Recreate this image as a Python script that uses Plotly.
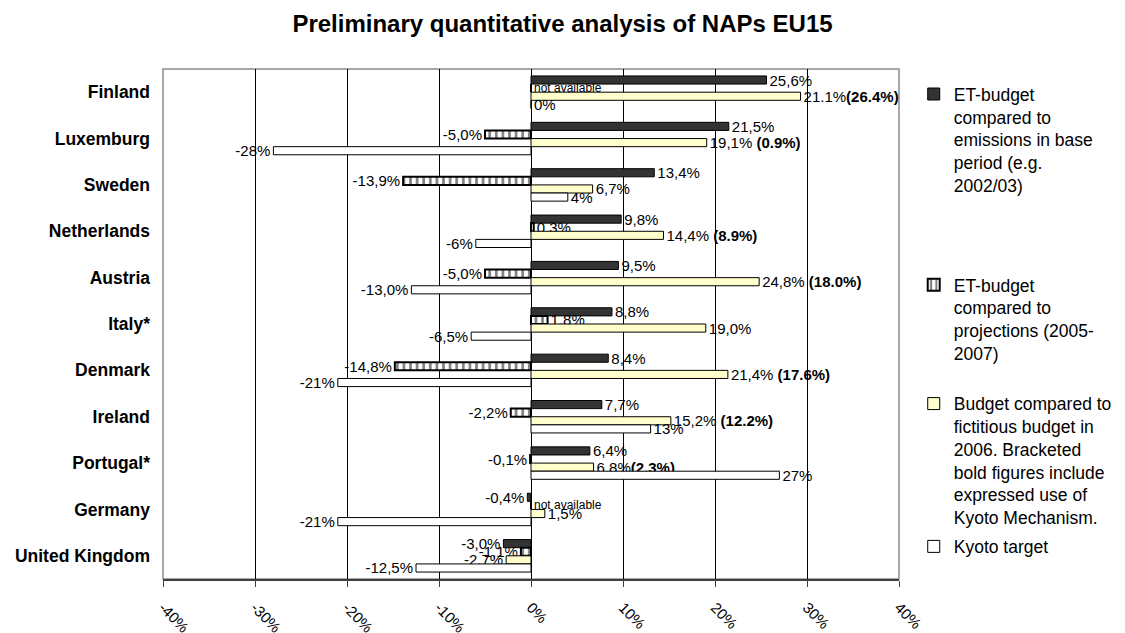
import plotly.graph_objects as go

# data (percent)
countries = ["Finland", "Luxemburg", "Sweden", "Netherlands", "Austria", "Italy*",
             "Denmark", "Ireland", "Portugal*", "Germany", "United Kingdom"]

et_base = [25.6, 21.5, 13.4, 9.8, 9.5, 8.8, 8.4, 7.7, 6.4, -0.4, -3.0]
et_base_text = ["25,6%", "21,5%", "13,4%", "9,8%", "9,5%", "8,8%", "8,4%", "7,7%",
                "6,4%", "-0,4%", "-3,0%"]

et_proj = [0, -5.0, -13.9, 0.3, -5.0, 1.8, -14.8, -2.2, -0.1, 0, -1.1]
et_proj_text = ["not available", "-5,0%", "-13,9%", "0,3%", "-5,0%", "1,8%", "-14,8%",
                "-2,2%", "-0,1%", "not available", "-1,1%"]

budget = [29.3, 19.1, 6.7, 14.4, 24.8, 19.0, 21.4, 15.2, 6.8, 1.5, -2.7]
budget_text = ["21.1%<b>(26.4%)</b>", "19,1% <b>(0.9%)</b>", "6,7%", "14,4% <b>(8.9%)</b>",
               "24,8% <b>(18.0%)</b>", "19,0%", "21,4% <b>(17.6%)</b>", "15,2% <b>(12.2%)</b>",
               "6,8%<b>(2.3%)</b>", "1,5%", "-2,7%"]

kyoto = [0, -28, 4, -6, -13.0, -6.5, -21, 13, 27, -21, -12.5]
kyoto_text = ["0%", "-28%", "4%", "-6%", "-13,0%", "-6,5%", "-21%", "13%", "27%",
              "-21%", "-12,5%"]

x_ticks = [-40, -30, -20, -10, 0, 10, 20, 30, 40]
x_tick_labels = ["-40%", "-30%", "-20%", "-10%", "0%", "10%", "20%", "30%", "40%"]

names = [
    "ET-budget<br>compared to<br>emissions in base<br>period (e.g.<br>2002/03)",
    "ET-budget<br>compared to<br>projections (2005-<br>2007)",
    "Budget compared to<br>fictitious budget in<br>2006. Bracketed<br>bold figures include<br>expressed use of<br>Kyoto Mechanism.",
    "Kyoto target",
]

FONT = "Arial, Liberation Sans, sans-serif"
LBL = 15

fig = go.Figure()

def label_sizes(texts):
    return [12 if t == "not available" else LBL for t in texts]

fig.add_trace(go.Bar(
    y=countries, x=et_base, orientation="h", name=names[0], legend="legend",
    marker=dict(color="#333333", line=dict(color="black", width=1)),
    text=et_base_text, textposition="outside",
    textfont=dict(size=label_sizes(et_base_text), color="black", family=FONT),
))
fig.add_trace(go.Bar(
    y=countries, x=et_proj, orientation="h", name=names[1], legend="legend2",
    marker=dict(color="white", line=dict(color="black", width=2),
                pattern=dict(shape="|", fgcolor="black", bgcolor="white",
                             size=6.6, solidity=0.4)),
    text=et_proj_text, textposition="outside",
    textfont=dict(size=label_sizes(et_proj_text), color="black", family=FONT),
))
fig.add_trace(go.Bar(
    y=countries, x=budget, orientation="h", name=names[2], legend="legend3",
    marker=dict(color="#FFFFCC", line=dict(color="black", width=1)),
    text=budget_text, textposition="outside",
    textfont=dict(size=LBL, color="black", family=FONT),
))
fig.add_trace(go.Bar(
    y=countries, x=kyoto, orientation="h", name=names[3], legend="legend4",
    marker=dict(color="white", line=dict(color="black", width=1)),
    text=kyoto_text, textposition="outside",
    textfont=dict(size=LBL, color="black", family=FONT),
))

fig.update_traces(cliponaxis=False, constraintext="none", showlegend=True)

n = len(countries)
legend_style = dict(font=dict(size=17.5, family=FONT, color="black"),
                    valign="top", bgcolor="rgba(0,0,0,0)", xanchor="left",
                    yanchor="top", x=1.02)

fig.update_layout(
    width=1125, height=633,
    margin=dict(l=163, r=226, t=69, b=54, autoexpand=False),
    paper_bgcolor="white", plot_bgcolor="white",
    font=dict(family=FONT, color="black"),
    showlegend=True,
    barmode="group", bargap=0.3, bargroupgap=0,
    title=dict(text="<b>Preliminary quantitative analysis of NAPs EU15</b>",
               x=0.5, xanchor="center", y=0.962, yanchor="middle",
               font=dict(size=24, family=FONT, color="black")),
    xaxis=dict(range=[-40, 40], tickvals=x_ticks, ticktext=x_tick_labels,
               showgrid=True, automargin=False,
               gridcolor="black", gridwidth=1, zeroline=True, zerolinecolor="black",
               zerolinewidth=1, showline=True, linecolor="#404040", linewidth=2,
               ticks="outside", ticklen=6, tickcolor="#404040", tickangle=45,
               tickfont=dict(size=15, family=FONT), ticklabelstandoff=6),
    yaxis=dict(type="category", categoryorder="array", categoryarray=countries,
               range=[n - 0.5, -0.5], showgrid=False, ticks="", automargin=False,
               tickfont=dict(size=17.5, family=FONT, weight="bold"),
               ticklabelstandoff=12),
    yaxis2=dict(overlaying="y", anchor="free", position=0.5, range=[n - 0.5, -0.5],
                tickvals=[i - 0.5 for i in range(n + 1)], ticks="outside",
                ticklen=4, tickcolor="black", showticklabels=False, automargin=False,
                showgrid=False, zeroline=False, showline=False),
    legend=dict(**legend_style, y=0.986),
    legend2=dict(**legend_style, y=0.612),
    legend3=dict(**legend_style, y=0.379),
    legend4=dict(**legend_style, y=0.099),
    shapes=[dict(type="rect", xref="paper", yref="paper", x0=0, y0=0, x1=1, y1=1,
                 line=dict(color="#8c8c8c", width=1.5), layer="below")],
)

fig.write_html("out.html", config={"displayModeBar": False},
               post_script="document.body.style.margin='0';")
